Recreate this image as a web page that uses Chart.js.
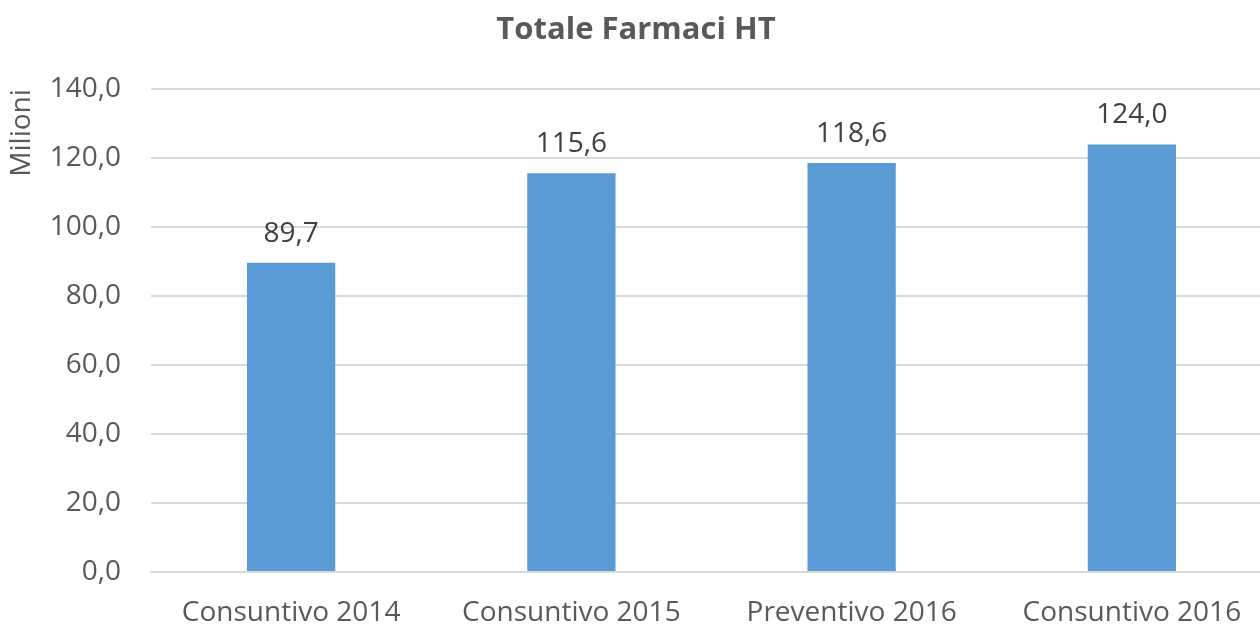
<!DOCTYPE html>
<html>
<head>
<meta charset="utf-8">
<script src="https://cdn.jsdelivr.net/npm/chart.js@4"></script>
<style>
  html, body { margin: 0; padding: 0; background: #fff; overflow: hidden; }
  #wrap { width: 1272px; height: 627px; }
</style>
</head>
<body>
<div id="wrap"><canvas id="chart"></canvas></div>
<script>
const categories = ["Consuntivo 2014", "Consuntivo 2015", "Preventivo 2016", "Consuntivo 2016"];
const values = [89.7, 115.6, 118.6, 124.0];
const yTicks = [0, 20, 40, 60, 80, 100, 120, 140];

const FONT = "'Open Sans', 'Liberation Sans', sans-serif";
const fmt = v => v.toFixed(1).replace(".", ",");

// ===== value labels above bars =====
const barLabels = {
    id: "barLabels",
    afterDatasetsDraw(chart) {
        const ctx = chart.ctx;
        ctx.save();
        ctx.font = `28px ${FONT}`;
        ctx.fillStyle = "#404040";
        ctx.textAlign = "center";
        ctx.textBaseline = "alphabetic";
        chart.getDatasetMeta(0).data.forEach((bar, i) => {
            ctx.fillText(fmt(values[i]), bar.x, bar.y - 21);
        });
        ctx.restore();
    }
};

new Chart(document.getElementById("chart"), {
    type: "bar",
    data: {
        labels: categories,
        datasets: [{
            data: values,
            backgroundColor: "#5B9BD5",
            borderWidth: 0,
            barPercentage: 0.315,
            categoryPercentage: 1
        }]
    },
    options: {
        responsive: true,
        maintainAspectRatio: false,
        animation: false,
        layout: { padding: 0 },
        plugins: {
            legend: { display: false },
            tooltip: { enabled: false },
            title: {
                display: true,
                text: "Totale Farmaci HT",
                color: "#595959",
                font: { family: FONT, size: 31, weight: "bold", lineHeight: 1.2 },
                padding: { top: 12, bottom: 40 }
            }
        },
        scales: {
            x: {
                afterFit: axis => { axis.height = 55; },
                grid: { display: false, drawTicks: false },
                border: { color: "#D9D9D9", width: 2 },
                ticks: {
                    color: "#595959",
                    font: { family: FONT, size: 28 },
                    padding: 24,
                    maxRotation: 0
                }
            },
            y: {
                min: 0,
                max: 140,
                afterBuildTicks: axis => { axis.ticks = yTicks.map(v => ({ value: v })); },
                afterFit: axis => { axis.width = 151; },
                grid: { color: "#D9D9D9", lineWidth: 2, drawTicks: false },
                border: { display: false },
                ticks: {
                    color: "#595959",
                    font: { family: FONT, size: 28 },
                    padding: 30,
                    callback: v => fmt(v)
                },
                title: {
                    display: true,
                    text: "Milioni",
                    align: "end",
                    color: "#595959",
                    font: { family: FONT, size: 28 },
                    padding: { top: 5, bottom: 0 }
                }
            }
        }
    },
    plugins: [barLabels]
});
</script>
</body>
</html>
